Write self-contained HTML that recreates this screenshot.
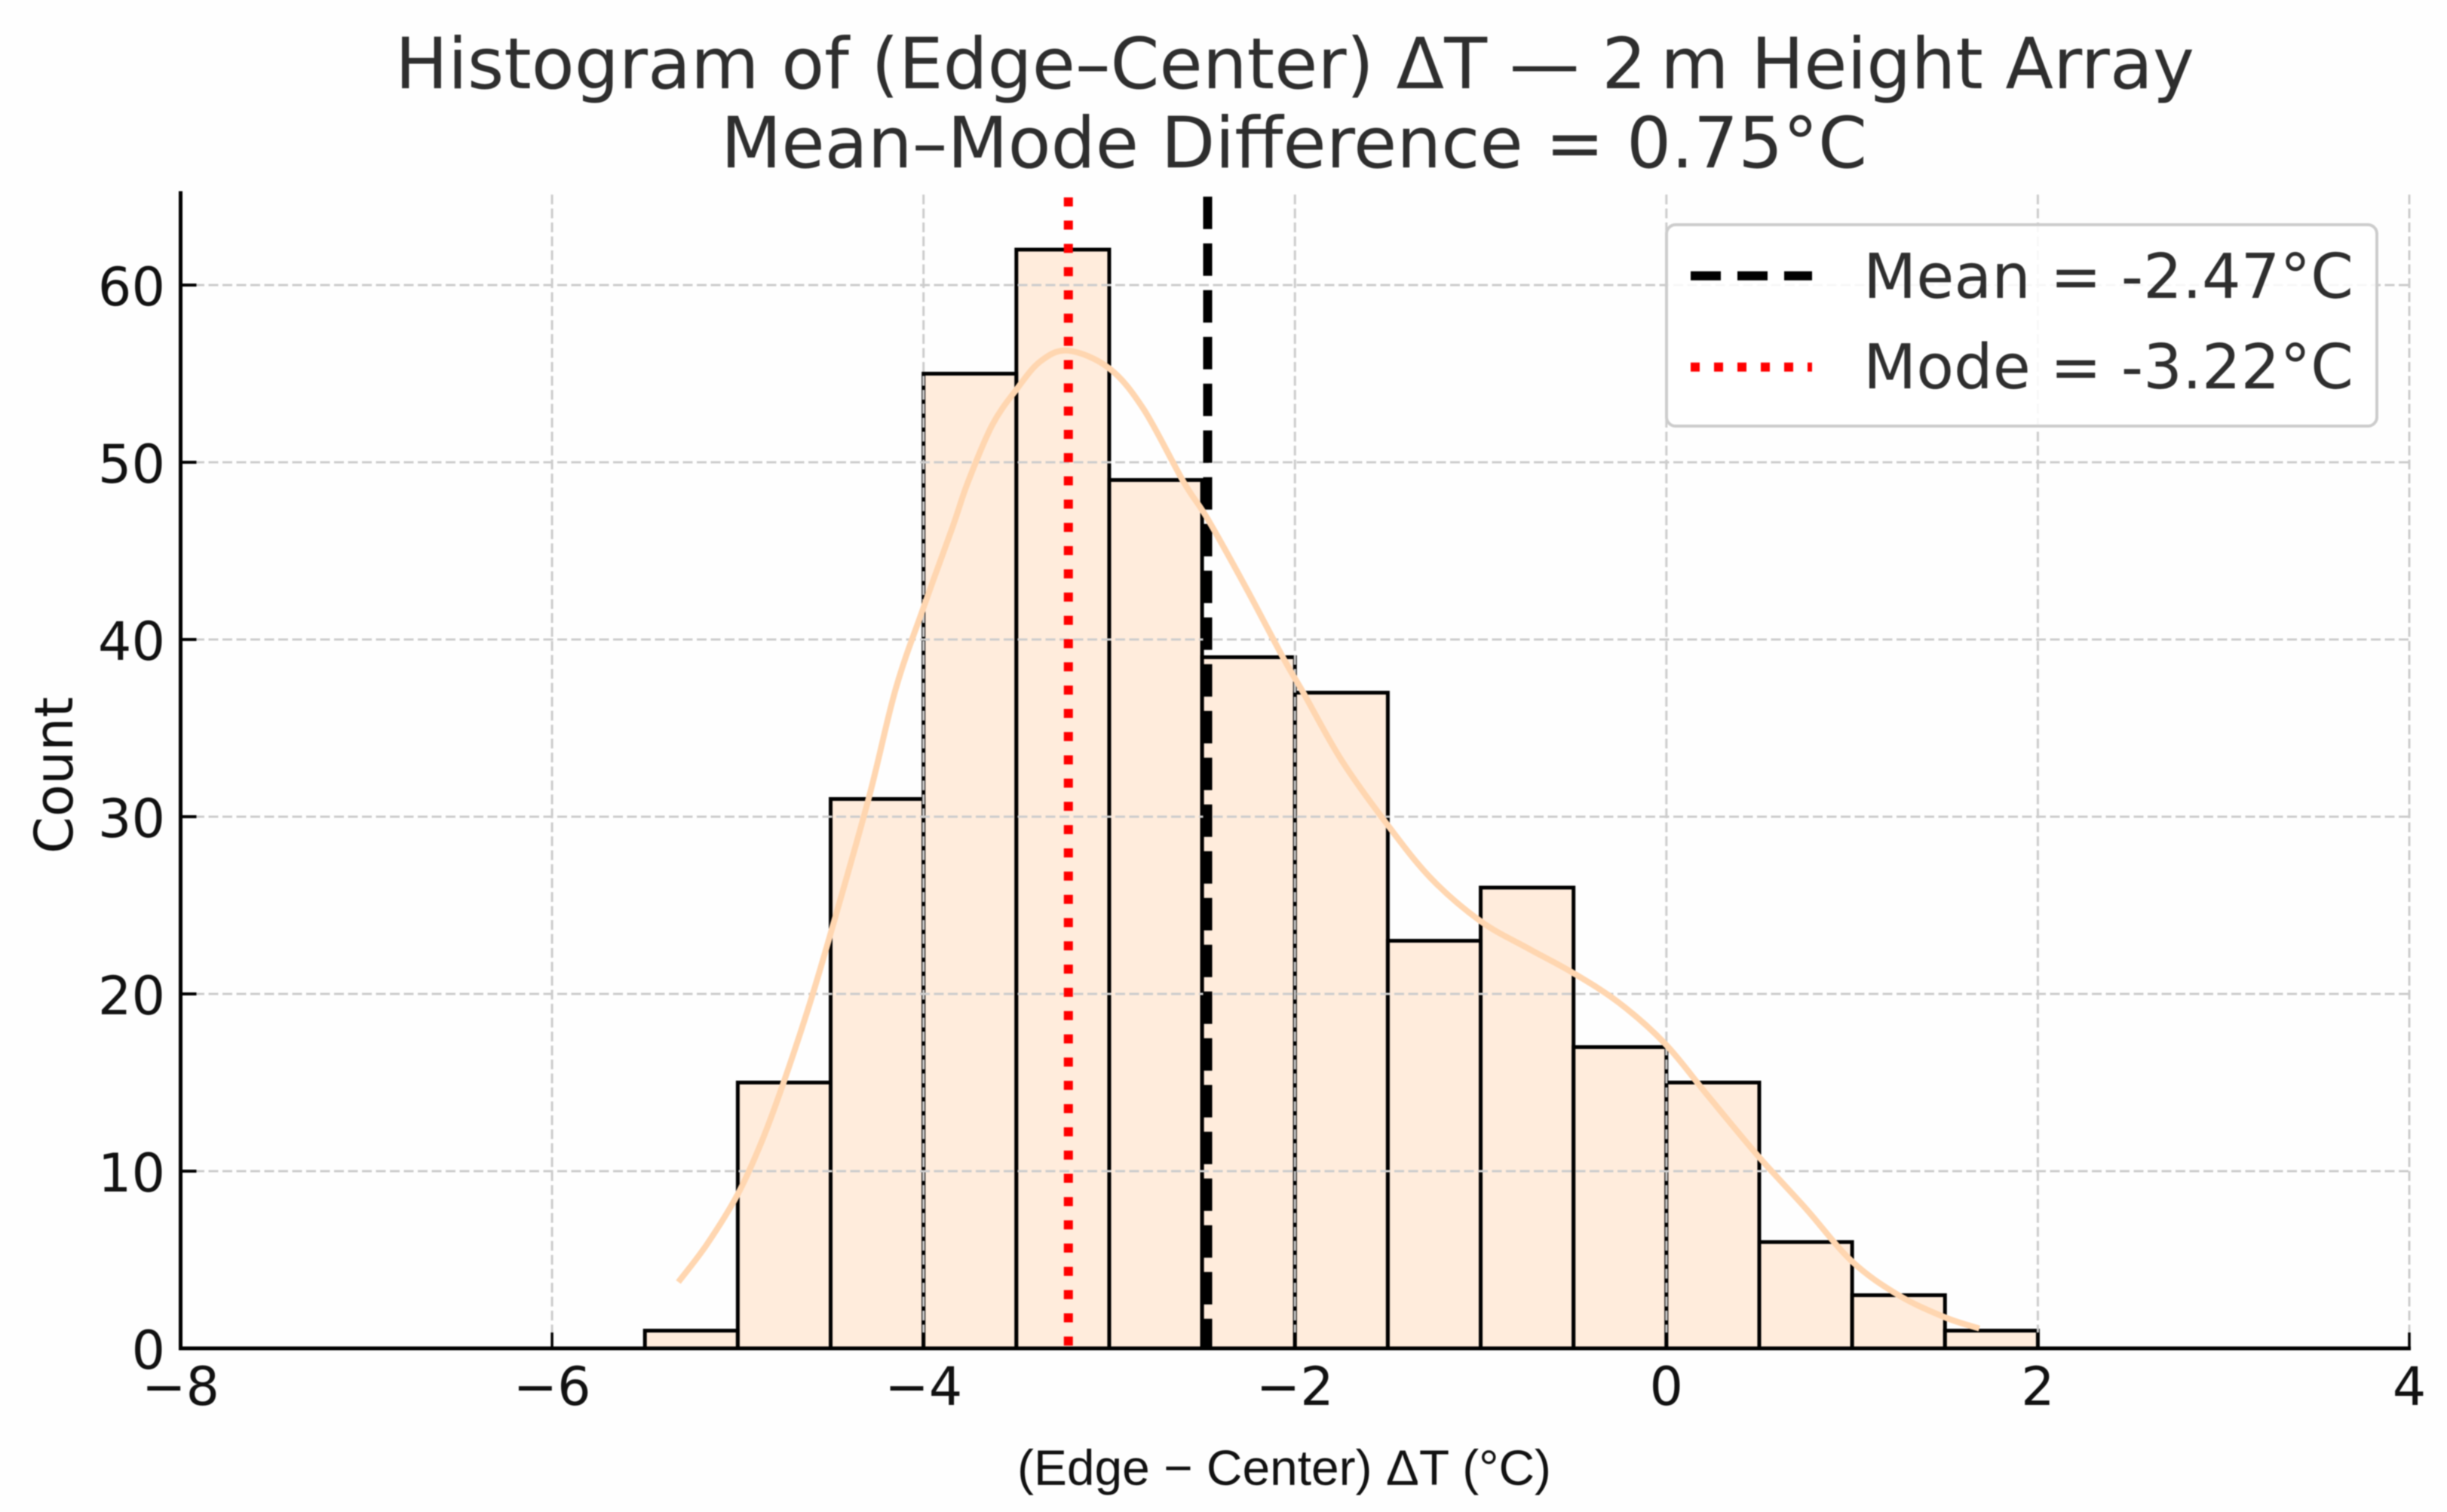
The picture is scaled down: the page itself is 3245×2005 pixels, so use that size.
<!DOCTYPE html>
<html lang="en">
<head>
<meta charset="utf-8">
<title>Histogram of (Edge–Center) ΔT — 2 m Height Array</title>
<style>
html,body{margin:0;padding:0;background:#fff;width:3245px;height:2005px;overflow:hidden}
svg{display:block;position:absolute;left:0;top:0;filter:blur(0.9px)}
text{font-family:"DejaVu Sans","Liberation Sans",sans-serif}
</style>
</head>
<body>
<svg id="chart" xmlns="http://www.w3.org/2000/svg" width="3245" height="2005" viewBox="0 0 3245 2005">
  <rect x="0" y="0" width="3245" height="2005" fill="#fefefe"/>
  <g id="bars"></g>
  <g id="grid"></g>
  <g id="refs"></g>
  <g id="kde"></g>
  <g id="axes"></g>

  <text x="1717" y="117" font-size="94" fill="#2e2e2e" text-anchor="middle" textLength="2386" lengthAdjust="spacingAndGlyphs">Histogram of (Edge–Center) ΔT — 2&#8201;m Height Array</text>
  <text x="1716" y="222" font-size="94" fill="#2e2e2e" text-anchor="middle" textLength="1520" lengthAdjust="spacingAndGlyphs">Mean–Mode Difference = 0.75°C</text>
  <text x="1703" y="1969" font-size="66" fill="#111" text-anchor="middle" style="font-family:'Liberation Sans',sans-serif" textLength="708" lengthAdjust="spacingAndGlyphs">(Edge − Center) ΔT (°C)</text>
  <text transform="translate(96,1028) rotate(-90)" font-size="70" fill="#111" text-anchor="middle">Count</text>

  <g>
    <rect x="2210" y="298" width="942" height="267" rx="12" ry="12" fill="#fff" fill-opacity="0.85" stroke="#ccc" stroke-width="4"/>
    <line x1="2242" y1="365.7" x2="2403" y2="365.7" stroke="#000" stroke-width="12" stroke-dasharray="40 22"/>
    <text x="2471" y="395" font-size="82" fill="#2e2e2e" textLength="650" lengthAdjust="spacingAndGlyphs">Mean = -2.47°C</text>
    <line x1="2242" y1="486.7" x2="2403" y2="486.7" stroke="#f00" stroke-width="12" stroke-dasharray="12 19"/>
    <text x="2471" y="515" font-size="82" fill="#2e2e2e" textLength="650" lengthAdjust="spacingAndGlyphs">Mode = -3.22°C</text>
  </g>
</svg>
<script>
const binEdges = [-5.5,-5,-4.5,-4,-3.5,-3,-2.5,-2,-1.5,-1,-0.5,0,0.5,1,1.5,2];
const binCounts = [1,15,31,55,62,49,39,37,23,26,17,15,6,3,1];
const kdeX = [-5.32,-5.166,-5,-4.87,-4.755,-4.62,-4.506,-4.296,-4.15,-4,-3.845,-3.76,-3.63,-3.5,-3.37,-3.22,-3,-2.815,-2.6,-2.47,-2.265,-2.06,-1.955,-1.75,-1.51,-1.27,-1,-0.75,-0.505,-0.255,-0.008,0.22,0.49,0.75,1,1.25,1.5,1.685];
const kdeY = [3.74,5.87,8.7,11.7,14.95,19.2,23.2,31,37.2,41.8,46.3,48.9,52.1,54.1,55.7,56.3,55.3,53,48.9,46.8,42.95,38.9,37,33.2,29.66,26.55,24.1,22.6,21.2,19.5,17.2,14.3,10.9,7.9,4.9,3,1.75,1.12];
const xTicks = [-8,-6,-4,-2,0,2,4];
const yTicks = [0,10,20,30,40,50,60];
const meanValue = -2.47;
const modeValue = -3.22;
const xMin = -8;
const xMax = 4;
const yMaxValue = 65.3;

const NS = 'http://www.w3.org/2000/svg';
function xScale(v){ return 239.5 + (v - xMin) * (2955.5 / (xMax - xMin)); }
function yScale(v){ return 1788 - v * 23.5; }
function make(tag, attrs, parent){
  const el = document.createElementNS(NS, tag);
  for (const k in attrs) el.setAttribute(k, attrs[k]);
  parent.appendChild(el);
  return el;
}
const barsG = document.getElementById('bars');
const gridG = document.getElementById('grid');
const refsG = document.getElementById('refs');
const kdeG = document.getElementById('kde');
const axesG = document.getElementById('axes');

binCounts.forEach(function(c, i){
  const x0 = xScale(binEdges[i]);
  const x1 = xScale(binEdges[i + 1]);
  const y = yScale(c);
  const r = make('rect', {x:x0, y:y, width:x1 - x0, height:yScale(0) - y, fill:'#ffdab9', 'fill-opacity':'0.5'}, barsG);
  
  
  const o = make('rect', {x:x0, y:y, width:x1 - x0, height:yScale(0) - y, fill:'none', stroke:'#000', 'stroke-width':'5'}, barsG);
  
  
});

yTicks.forEach(function(t){
  if (t === 0) return;
  const l = make('line', {x1:xScale(xMin), x2:xScale(xMax), y1:yScale(t), y2:yScale(t), stroke:'#ccc', 'stroke-width':'3', 'stroke-dasharray':'13 5.5'}, gridG);
  
  
});
xTicks.forEach(function(t){
  if (t === xMin) return;
  const l = make('line', {x1:xScale(t), x2:xScale(t), y1:yScale(0), y2:yScale(yMaxValue), stroke:'#ccc', 'stroke-width':'3', 'stroke-dasharray':'13 5.5'}, gridG);
  
  
});

const meanLine = make('line', {x1:xScale(meanValue), x2:xScale(meanValue), y1:260.7, y2:yScale(0), stroke:'#000', 'stroke-width':'12', 'stroke-dasharray':'43 19'}, refsG);


const modeLine = make('line', {x1:xScale(modeValue), x2:xScale(modeValue), y1:261.7, y2:yScale(0), stroke:'#f00', 'stroke-width':'12', 'stroke-dasharray':'12 18.83'}, refsG);



function smoothPath(px, py){
  let d = 'M' + px[0] + ' ' + py[0];
  for (let i = 0; i < px.length - 1; i++){
    const a = Math.max(i - 1, 0), b = Math.min(i + 2, px.length - 1);
    const c1x = px[i] + (px[i + 1] - px[a]) / 6;
    const c1y = py[i] + (py[i + 1] - py[a]) / 6;
    const c2x = px[i + 1] - (px[b] - px[i]) / 6;
    const c2y = py[i + 1] - (py[b] - py[i]) / 6;
    d += 'C' + c1x + ' ' + c1y + ' ' + c2x + ' ' + c2y + ' ' + px[i + 1] + ' ' + py[i + 1];
  }
  return d;
}
const kdeLine = make('path', {d:smoothPath(kdeX.map(xScale), kdeY.map(yScale)), fill:'none', stroke:'#ffd6b0', 'stroke-width':'8'}, kdeG);



const leftSpine = make('line', {x1:xScale(xMin), x2:xScale(xMin), y1:yScale(yMaxValue), y2:yScale(0) + 2.5, stroke:'#000', 'stroke-width':'5'}, axesG);


const bottomSpine = make('line', {x1:xScale(xMin) - 2.5, x2:xScale(xMax) + 2, y1:yScale(0), y2:yScale(0), stroke:'#000', 'stroke-width':'5'}, axesG);



xTicks.forEach(function(t){
  const m = make('line', {x1:xScale(t), x2:xScale(t), y1:yScale(0), y2:yScale(0) - 21, stroke:'#000', 'stroke-width':'3.5'}, axesG);
  
  
  const l = make('text', {x:xScale(t), y:1863, 'font-size':'70', fill:'#111', 'text-anchor':'middle'}, axesG);
  l.textContent = String(t).replace('-', '\u2212');
  
  
});
yTicks.forEach(function(t){
  const m = make('line', {x1:xScale(xMin), x2:xScale(xMin) + 21, y1:yScale(t), y2:yScale(t), stroke:'#000', 'stroke-width':'4'}, axesG);
  
  
  const l = make('text', {x:219, y:yScale(t) + 27, 'font-size':'70', fill:'#111', 'text-anchor':'end'}, axesG);
  l.textContent = String(t);
  
  
});
</script>
</body>
</html>
